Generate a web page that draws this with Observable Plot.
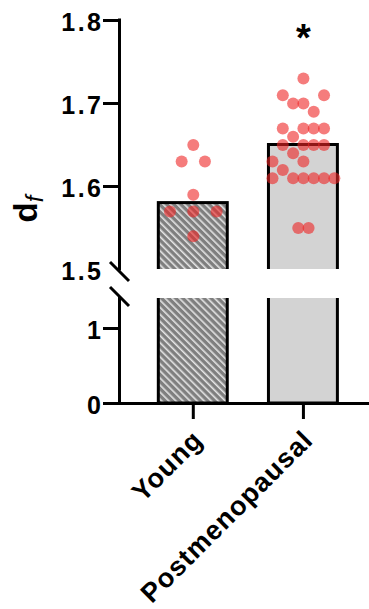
<!DOCTYPE html>
<html><head><meta charset="utf-8">
<script src="https://cdn.jsdelivr.net/npm/d3@7"></script>
<script src="https://cdn.jsdelivr.net/npm/@observablehq/plot@0.6"></script>
<style>html,body{margin:0;padding:0;background:#fff;} #chart{width:369px;height:609px;}</style>
</head><body><div id="chart"></div>
<script>
// ---- data ----
const groups = ["Young", "Postmenopausal"];
const groupMeans = [1.58, 1.65];
const significance = ["", "*"];
const youngValues = [1.65, 1.63, 1.63, 1.59, 1.57, 1.57, 1.57, 1.54];
const youngSlots  = [0, -1, 1, 0, -2, 0, 2, 0];
const postValues = [1.73, 1.71, 1.71, 1.70, 1.70, 1.69, 1.67, 1.67, 1.67, 1.67, 1.66,
                    1.65, 1.65, 1.65, 1.65, 1.64, 1.63, 1.63, 1.62,
                    1.61, 1.61, 1.61, 1.61, 1.61, 1.61, 1.55, 1.55];
const postSlots  = [0, -2, 2, -1, 0, 1, -2, 0, 1, 2, -1,
                    -2, 0, 1, 2, -1, -3, 0, -2,
                    -3, -1, 0, 1, 2, 3, -0.5, 0.5];
const yTicks = [0, 1, 1.5, 1.6, 1.7, 1.8];
const yTickLabels = ["0", "1", "1.5", "1.6", "1.7", "1.8"];
const yTickMarks = [0, 1, 1.6, 1.7, 1.8];
const lowerSegment = [0, 1.4];
const upperSegment = [1.5, 1.8];

// ---- layout / style ----
const xDomain = [-0.67, 1.6];
const halfBar = 0.313;
const slotWidth = [0.1058, 0.0936];

const bars = groups.map((g, i) => ({group: g, i, mean: groupMeans[i], sig: significance[i]}));
const points = [
  ...youngValues.map((v, k) => ({i: 0, value: v, slot: youngSlots[k]})),
  ...postValues.map((v, k) => ({i: 1, value: v, slot: postSlots[k]}))
];
const segments = [lowerSegment, upperSegment];

const slash = {
  draw(ctx, size) {
    const h = Math.sqrt(size / Math.PI);
    ctx.moveTo(-h, -h);
    ctx.lineTo(h, h);
  }
};

const svg = Plot.plot({
  width: 369, height: 609,
  marginLeft: 119, marginRight: 0, marginTop: 20, marginBottom: 206,
  style: {fontFamily: "'Liberation Sans', Arial, sans-serif", fontWeight: "bold", color: "black", background: "white"},
  x: {type: "linear", domain: xDomain, range: [119, 369]},
  y: {type: "linear", domain: [lowerSegment[0], lowerSegment[1], upperSegment[0], upperSegment[1]], range: [403, 298, 269, 20], label: null},
  marks: [
    Plot.rect(bars.filter(d => d.i === 0), {x1: d => d.i - halfBar, x2: d => d.i + halfBar, y1: 0, y2: "mean", fill: "url(#hatch)", stroke: "black", strokeWidth: 3}),
    Plot.rect(bars.filter(d => d.i === 1), {x1: d => d.i - halfBar, x2: d => d.i + halfBar, y1: 0, y2: "mean", fill: "#d3d3d3", stroke: "black", strokeWidth: 3}),
    Plot.rect([{}], {x1: -0.5, x2: 1.55, y1: lowerSegment[1], y2: upperSegment[0], fill: "white"}),
    Plot.dot(points, {x: d => d.i + d.slot * slotWidth[d.i], y: "value", r: 6, fill: "#ee2424", fillOpacity: 0.6, stroke: "none"}),
    Plot.ruleY([0], {strokeWidth: 3}),
    Plot.ruleX(segments, {x: xDomain[0], y1: d => d[0], y2: d => d[1], strokeWidth: 3, strokeLinecap: "square"}),
    Plot.dot([upperSegment[0]], {x: xDomain[0], y: d => d, dy: 2, symbol: slash, r: 9.5, stroke: "black", strokeWidth: 3, fill: "none"}),
    Plot.dot([lowerSegment[1]], {x: xDomain[0], y: d => d, dy: -2, symbol: slash, r: 9.5, stroke: "black", strokeWidth: 3, fill: "none"}),
    Plot.axisY({ticks: yTickMarks, tickSize: 16, strokeWidth: 3, fill: "none", label: null}),
    Plot.axisY({ticks: yTicks, tickFormat: d => yTickLabels[yTicks.indexOf(d)], tickSize: 0, tickPadding: 16, dy: 2, fontSize: 25, fontWeight: "bold", label: null}),
    Plot.axisX({ticks: [0, 1], tickSize: 16, strokeWidth: 3, fill: "none", label: null}),
    Plot.axisX({ticks: [0, 1], tickFormat: d => groups[d], tickSize: 0, tickPadding: 32, tickRotate: -45, dx: 5, fontSize: 27, fontWeight: "bold", label: null}),
    Plot.text(bars.filter(d => d.sig), {x: "i", y: upperSegment[1], text: "sig", lineAnchor: "bottom", dy: 30.5, fontSize: 38, fontWeight: "bold"})
  ]
});

const root = d3.select(svg);
const pat = root.insert("defs", ":first-child").append("pattern")
  .attr("id", "hatch").attr("patternUnits", "userSpaceOnUse")
  .attr("width", 5).attr("height", 5).attr("patternTransform", "rotate(-45)");
pat.append("rect").attr("width", 5).attr("height", 5).attr("fill", "#7f7f7f");
pat.append("rect").attr("width", 1.6).attr("height", 5).attr("fill", "#e4e4e4");

// letter spacing for tick labels (wide Arial-like lettering in the reference)
root.selectAll("g[aria-label='x-axis tick label'] text").style("letter-spacing", "1px");
root.selectAll("g[aria-label='y-axis tick label'] text").style("letter-spacing", "2.5px");

const ylab = root.append("text")
  .attr("transform", "translate(37,209) rotate(-90)")
  .attr("text-anchor", "middle")
  .attr("fill", "black");
ylab.append("tspan").attr("font-size", 33).attr("font-weight", "bold").text("d");
ylab.append("tspan").attr("font-size", 24).attr("font-weight", "normal").attr("font-style", "italic").attr("dy", 6).text("f");

document.getElementById("chart").appendChild(svg);
</script>
</body></html>
